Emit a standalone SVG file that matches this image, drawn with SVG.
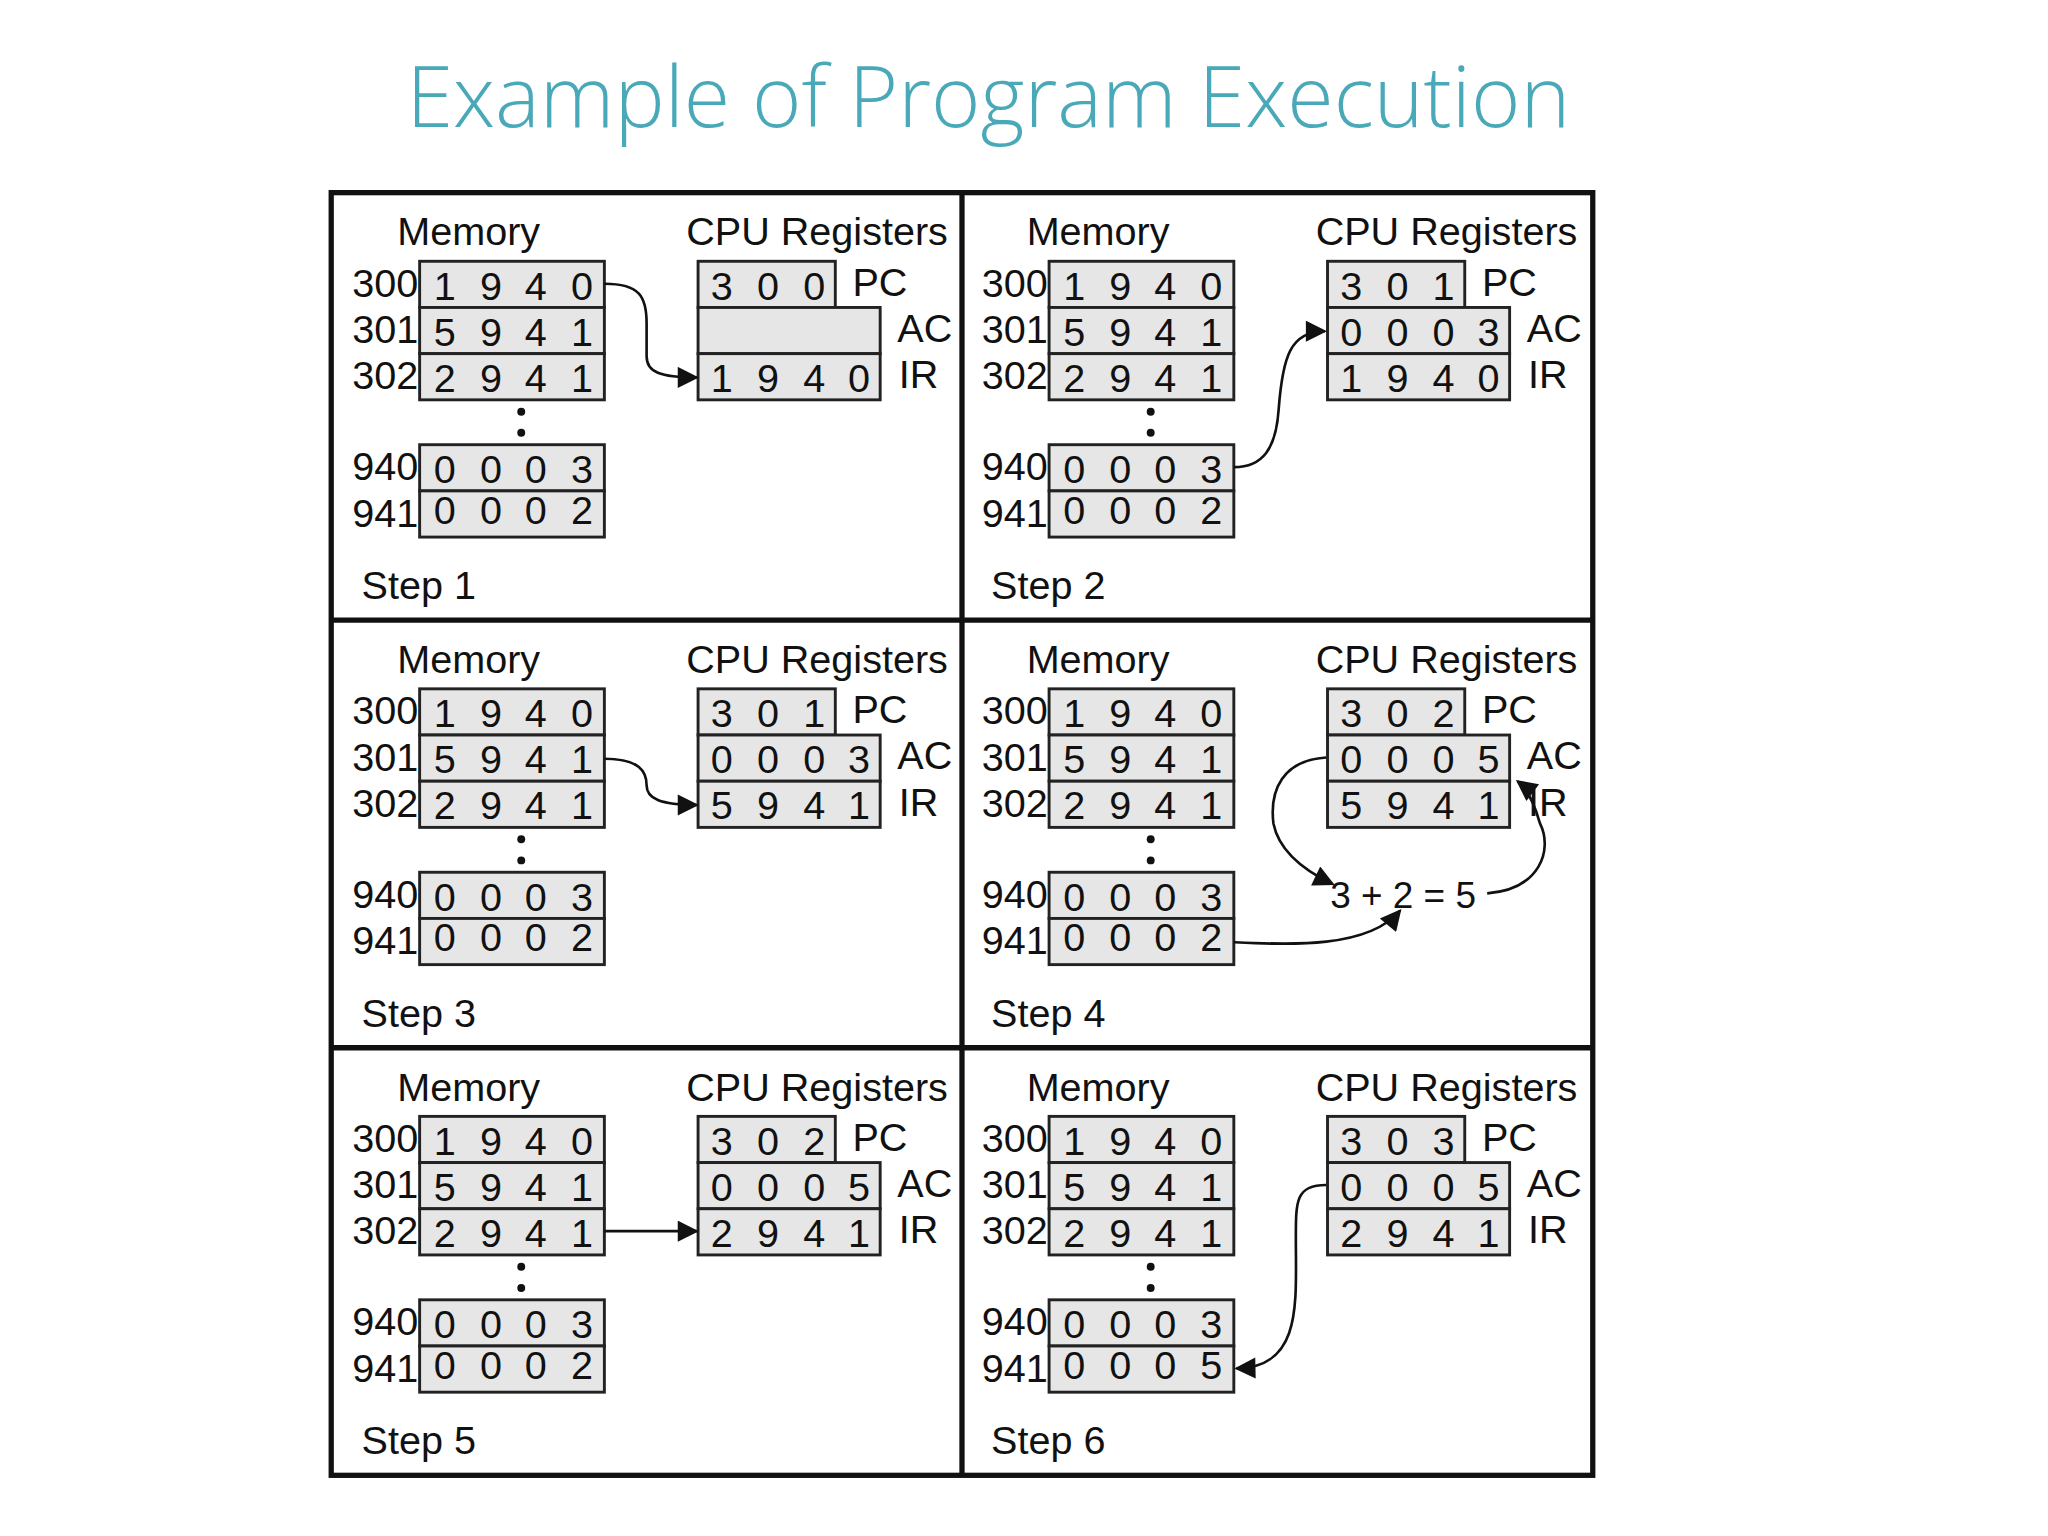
<svg xmlns="http://www.w3.org/2000/svg" width="2048" height="1536" viewBox="0 0 2048 1536">
<defs>
<style>
.t{font-family:"Liberation Sans",Arial,sans-serif;font-size:30px;fill:#111}
.d{font-family:"Liberation Sans",Arial,sans-serif;font-size:30px;fill:#111;text-anchor:middle}
.c{fill:#e6e6e6;stroke:#222;stroke-width:2.2}
.w{fill:none;stroke:#111;stroke-width:2}
.b{fill:none;stroke:#111;stroke-width:4}
</style>
<marker id="ah" viewBox="0 0 10 10" refX="9" refY="5" markerWidth="6" markerHeight="6" orient="auto" markerUnits="userSpaceOnUse"><path d="M0,0 L10,5 L0,10 z" fill="#111"/></marker>
<marker id="a" viewBox="0 0 10 10" refX="9" refY="5" markerWidth="18" markerHeight="16" orient="auto" markerUnits="userSpaceOnUse"><path d="M0,0 L10,5 L0,10 z" fill="#111"/></marker>
<g id="mem">
<rect class="c" x="318" y="198" width="140" height="35"/><rect class="c" x="318" y="233" width="140" height="35"/><rect class="c" x="318" y="268" width="140" height="35"/>
<rect class="c" x="318" y="337" width="140" height="35"/><rect class="c" x="318" y="372" width="140" height="35"/>
<text class="t" x="301" y="186">Memory</text>
<text class="t" x="267" y="225">300</text><text class="t" x="267" y="260">301</text><text class="t" x="267" y="295">302</text>
<text class="t" x="267" y="364">940</text><text class="t" x="267" y="399">941</text>
<text class="d" y="227"><tspan x="337">1</tspan><tspan x="372">9</tspan><tspan x="406">4</tspan><tspan x="441">0</tspan></text>
<text class="d" y="262"><tspan x="337">5</tspan><tspan x="372">9</tspan><tspan x="406">4</tspan><tspan x="441">1</tspan></text>
<text class="d" y="297"><tspan x="337">2</tspan><tspan x="372">9</tspan><tspan x="406">4</tspan><tspan x="441">1</tspan></text>
<text class="d" y="366"><tspan x="337">0</tspan><tspan x="372">0</tspan><tspan x="406">0</tspan><tspan x="441">3</tspan></text>
<circle cx="395" cy="312" r="3" fill="#111"/><circle cx="395" cy="328" r="3" fill="#111"/>
<text class="t" x="520" y="186">CPU Registers</text>
<rect class="c" x="529" y="198" width="104" height="35"/><rect class="c" x="529" y="233" width="138" height="35"/><rect class="c" x="529" y="268" width="138" height="35"/>
<text class="t" x="646" y="224">PC</text><text class="t" x="680" y="259">AC</text><text class="t" x="681" y="294">IR</text>
</g>
</defs>
<text x="308" y="96" style="font-family:'Open Sans',sans-serif;font-size:64px;font-weight:300;fill:#4aa9b8" transform="scale(1.3196)">Example of Program Execution</text>
<g transform="scale(1.3196)">
<g id="frame">
<rect class="b" x="251" y="146" width="956" height="972"/>
<line class="b" x1="729" y1="146" x2="729" y2="1118"/>
<line class="b" x1="251" y1="470" x2="1207" y2="470"/>
<line class="b" x1="251" y1="794" x2="1207" y2="794"/>
</g>
<g id="step1">
<use href="#mem"/>
<text class="d" y="397"><tspan x="337">0</tspan><tspan x="372">0</tspan><tspan x="406">0</tspan><tspan x="441">2</tspan></text>
<text class="d" y="227"><tspan x="547">3</tspan><tspan x="582">0</tspan><tspan x="617">0</tspan></text>
<text class="d" y="297"><tspan x="547">1</tspan><tspan x="582">9</tspan><tspan x="617">4</tspan><tspan x="651">0</tspan></text>
<text class="t" x="274" y="454">Step 1</text>
</g>
<g id="step2" transform="translate(477,0)">
<use href="#mem"/>
<text class="d" y="397"><tspan x="337">0</tspan><tspan x="372">0</tspan><tspan x="406">0</tspan><tspan x="441">2</tspan></text>
<text class="d" y="227"><tspan x="547">3</tspan><tspan x="582">0</tspan><tspan x="617">1</tspan></text>
<text class="d" y="262"><tspan x="547">0</tspan><tspan x="582">0</tspan><tspan x="617">0</tspan><tspan x="651">3</tspan></text>
<text class="d" y="297"><tspan x="547">1</tspan><tspan x="582">9</tspan><tspan x="617">4</tspan><tspan x="651">0</tspan></text>
<text class="t" x="274" y="454">Step 2</text>
</g>
<g id="step3" transform="translate(0,324)">
<use href="#mem"/>
<text class="d" y="397"><tspan x="337">0</tspan><tspan x="372">0</tspan><tspan x="406">0</tspan><tspan x="441">2</tspan></text>
<text class="d" y="227"><tspan x="547">3</tspan><tspan x="582">0</tspan><tspan x="617">1</tspan></text>
<text class="d" y="262"><tspan x="547">0</tspan><tspan x="582">0</tspan><tspan x="617">0</tspan><tspan x="651">3</tspan></text>
<text class="d" y="297"><tspan x="547">5</tspan><tspan x="582">9</tspan><tspan x="617">4</tspan><tspan x="651">1</tspan></text>
<text class="t" x="274" y="454">Step 3</text>
</g>
<g id="step4" transform="translate(477,324)">
<use href="#mem"/>
<text class="d" y="397"><tspan x="337">0</tspan><tspan x="372">0</tspan><tspan x="406">0</tspan><tspan x="441">2</tspan></text>
<text class="d" y="227"><tspan x="547">3</tspan><tspan x="582">0</tspan><tspan x="617">2</tspan></text>
<text class="d" y="262"><tspan x="547">0</tspan><tspan x="582">0</tspan><tspan x="617">0</tspan><tspan x="651">5</tspan></text>
<text class="d" y="297"><tspan x="547">5</tspan><tspan x="582">9</tspan><tspan x="617">4</tspan><tspan x="651">1</tspan></text>
<text class="t" x="531" y="364" style="font-size:28px">3 + 2 = 5</text>
<text class="t" x="274" y="454">Step 4</text>
</g>
<g id="step5" transform="translate(0,648)">
<use href="#mem"/>
<text class="d" y="397"><tspan x="337">0</tspan><tspan x="372">0</tspan><tspan x="406">0</tspan><tspan x="441">2</tspan></text>
<text class="d" y="227"><tspan x="547">3</tspan><tspan x="582">0</tspan><tspan x="617">2</tspan></text>
<text class="d" y="262"><tspan x="547">0</tspan><tspan x="582">0</tspan><tspan x="617">0</tspan><tspan x="651">5</tspan></text>
<text class="d" y="297"><tspan x="547">2</tspan><tspan x="582">9</tspan><tspan x="617">4</tspan><tspan x="651">1</tspan></text>
<text class="t" x="274" y="454">Step 5</text>
</g>
<g id="step6" transform="translate(477,648)">
<use href="#mem"/>
<text class="d" y="397"><tspan x="337">0</tspan><tspan x="372">0</tspan><tspan x="406">0</tspan><tspan x="441">5</tspan></text>
<text class="d" y="227"><tspan x="547">3</tspan><tspan x="582">0</tspan><tspan x="617">3</tspan></text>
<text class="d" y="262"><tspan x="547">0</tspan><tspan x="582">0</tspan><tspan x="617">0</tspan><tspan x="651">5</tspan></text>
<text class="d" y="297"><tspan x="547">2</tspan><tspan x="582">9</tspan><tspan x="617">4</tspan><tspan x="651">1</tspan></text>
<text class="t" x="274" y="454">Step 6</text>
</g>
<g id="connectors" marker-end="url(#a)">
<path class="w" d="M458,215 C485,215 490,225 490,245 L490,270 C490,282 500,286 528,286"/>
<path class="w" d="M935,354 C957,354 967,340 969,310 C972,270 978,251 1004,251"/>
<path class="w" d="M458,575 C485,575 490,585 490,595 C490,605 500,610 528,610"/>
<path class="w" d="M1005,574 C972,576 962,599 965,624 C969,644 987,659 1010,670"/>
<path class="w" d="M935,714 C977,716 1037,719 1061,690"/>
<path class="w" d="M1127,677 C1167,674 1177,644 1167,624 C1163,610 1158,598 1150,592"/>
<path class="w" d="M458,933 L528,933"/>
<path class="w" d="M1005,898 C982,898 982,910 982,938 C982,988 987,1036 937,1037"/>
</g>
</g>
</svg>
